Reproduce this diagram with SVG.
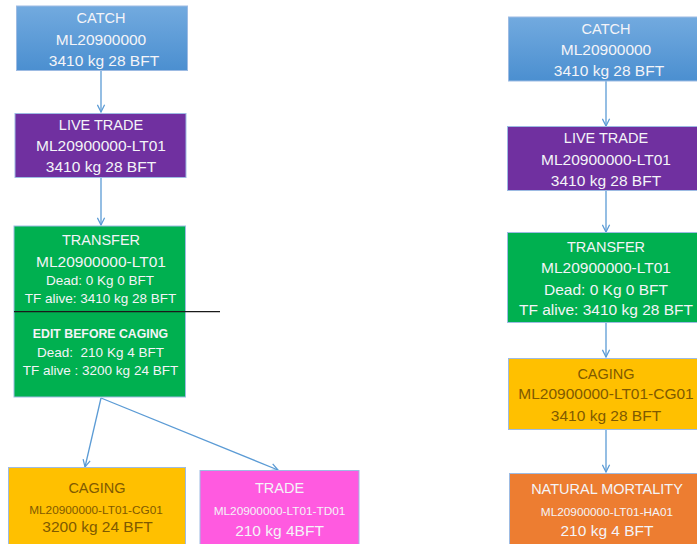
<svg xmlns="http://www.w3.org/2000/svg" width="697" height="544" viewBox="0 0 697 544">
<style>
text{font-family:"Liberation Sans",Arial,sans-serif;text-anchor:middle;fill:#f4f4f8}
.t{font-size:14.5px}
.m{font-size:15.5px}
.s{font-size:13.5px}
.xs{font-size:11.8px}
.b{font-weight:bold;font-size:12.3px}
.dk{fill:#7f5a00}
.box{stroke:#9dbbe3;stroke-width:1}
.cn{stroke:#5b9bd5;stroke-width:1.3;fill:none}
</style>
<defs>
<linearGradient id="blue" x1="0" y1="0" x2="0" y2="1">
<stop offset="0" stop-color="#72aadf"/>
<stop offset="1" stop-color="#4b8fd0"/>
</linearGradient>
<marker id="ah" viewBox="0 0 10 10" refX="9" refY="5" markerWidth="9" markerHeight="9" markerUnits="userSpaceOnUse" orient="auto">
<path d="M1,1 L9,5 L1,9" fill="none" stroke="#5b9bd5" stroke-width="1.4"/>
</marker>
</defs>
<g id="connectors">
<line class="cn" x1="101" y1="71" x2="101" y2="112" marker-end="url(#ah)"/>
<line class="cn" x1="101" y1="178" x2="101" y2="225" marker-end="url(#ah)"/>
<line class="cn" x1="101" y1="398" x2="85" y2="467" marker-end="url(#ah)"/>
<line class="cn" x1="101" y1="398" x2="278" y2="470" marker-end="url(#ah)"/>
<line class="cn" x1="606" y1="81" x2="606" y2="126" marker-end="url(#ah)"/>
<line class="cn" x1="606" y1="191" x2="606" y2="232" marker-end="url(#ah)"/>
<line class="cn" x1="606" y1="322" x2="606" y2="357" marker-end="url(#ah)"/>
<line class="cn" x1="606" y1="430" x2="606" y2="472" marker-end="url(#ah)"/>
</g>
<g id="catch-left">
<rect class="box" x="16.5" y="6" width="171" height="64.5" fill="url(#blue)"/>
<text class="t" x="101" y="23">CATCH</text>
<text class="m" x="101" y="44.5">ML20900000</text>
<text class="m" x="104" y="66">3410 kg 28 BFT</text>
</g>
<g id="livetrade-left">
<rect class="box" x="15" y="113.5" width="171" height="64" fill="#7030a0"/>
<text class="t" x="101" y="130">LIVE TRADE</text>
<text class="m" x="101" y="151">ML20900000-LT01</text>
<text class="m" x="101" y="171.5">3410 kg 28 BFT</text>
</g>
<g id="transfer-left">
<rect class="box" x="14" y="226" width="171.5" height="171" fill="#00b050"/>
<text class="t" x="101" y="244.5">TRANSFER</text>
<text class="m" x="101" y="266.5">ML20900000-LT01</text>
<text class="s" x="100" y="285">Dead: 0 Kg 0 BFT</text>
<text class="s" x="100.5" y="302.5">TF alive: 3410 kg 28 BFT</text>
<line x1="14" y1="311.7" x2="220" y2="311.7" stroke="#1a1a1a" stroke-width="1.3"/>
<text class="b" x="100.5" y="338">EDIT BEFORE CAGING</text>
<text class="s" x="100.5" y="356.5" xml:space="preserve">Dead:  210 Kg 4 BFT</text>
<text class="s" x="100.5" y="375">TF alive : 3200 kg 24 BFT</text>
</g>
<g id="caging-left">
<rect class="box" x="8.5" y="467.5" width="177" height="78" fill="#ffc000"/>
<text class="t dk" x="97" y="492.5">CAGING</text>
<text class="xs dk" x="96" y="513.5">ML20900000-LT01-CG01</text>
<text class="m dk" x="97.5" y="531.5">3200 kg 24 BFT</text>
</g>
<g id="trade-left">
<rect class="box" x="200" y="470.5" width="159" height="75" fill="#ff5ae0"/>
<text class="t" x="279.5" y="492.5">TRADE</text>
<text class="xs" x="279.5" y="515">ML20900000-LT01-TD01</text>
<text class="m" x="279.5" y="535.5">210 kg 4BFT</text>
</g>
<g id="catch-right">
<rect class="box" x="508.5" y="17" width="192" height="64" fill="url(#blue)"/>
<text class="t" x="606" y="33.5">CATCH</text>
<text class="m" x="606" y="55">ML20900000</text>
<text class="m" x="609" y="76">3410 kg 28 BFT</text>
</g>
<g id="livetrade-right">
<rect class="box" x="507.5" y="126.5" width="193" height="64" fill="#7030a0"/>
<text class="t" x="606" y="143">LIVE TRADE</text>
<text class="m" x="606" y="164.5">ML20900000-LT01</text>
<text class="m" x="606" y="186">3410 kg 28 BFT</text>
</g>
<g id="transfer-right">
<rect class="box" x="507.5" y="232.5" width="193" height="90" fill="#00b050"/>
<text class="t" x="606" y="251.5">TRANSFER</text>
<text class="m" x="606" y="272.5">ML20900000-LT01</text>
<text class="m" x="606" y="294.5">Dead: 0 Kg 0 BFT</text>
<text class="m" x="606" y="314.5">TF alive: 3410 kg 28 BFT</text>
</g>
<g id="caging-right">
<rect class="box" x="508.5" y="358.5" width="192" height="71" fill="#ffc000"/>
<text class="t dk" x="606" y="378.5">CAGING</text>
<text class="m dk" x="606" y="398.5">ML20900000-LT01-CG01</text>
<text class="m dk" x="606" y="420.5">3410 kg 28 BFT</text>
</g>
<g id="mortality-right">
<rect class="box" x="509.5" y="473.5" width="191" height="72" fill="#ed7d31"/>
<text class="t" x="607" y="493.5">NATURAL MORTALITY</text>
<text class="xs" x="607" y="516">ML20900000-LT01-HA01</text>
<text class="m" x="607" y="536">210 kg 4 BFT</text>
</g>
</svg>
